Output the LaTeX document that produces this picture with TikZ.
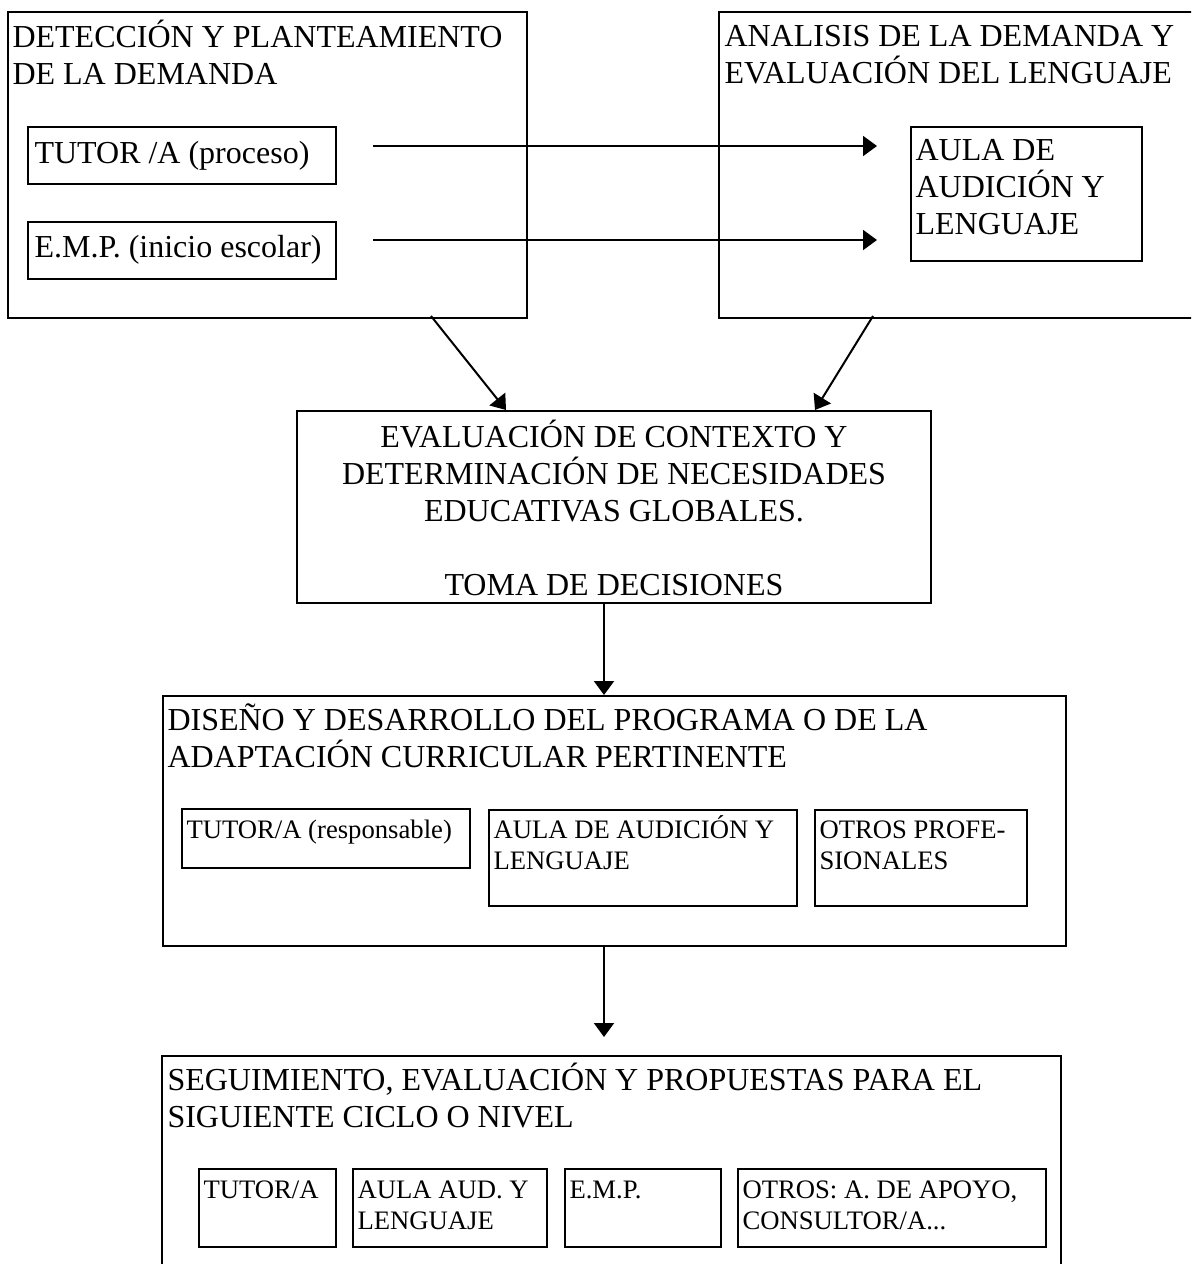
\documentclass[tikz,border=0pt]{standalone}
\usepackage{fontspec}
\setmainfont{Liberation Serif}
\usetikzlibrary{arrows.meta,fit}

\begin{document}
\begin{tikzpicture}[x=0.375pt,y=-0.375pt,
  box/.style={draw,line width=0.75pt,inner sep=0pt},
  thinbox/.style={draw,line width=0.4pt,inner sep=0pt},
  big/.style={inner sep=0pt,anchor=base west,align=left,font=\fontsize{12}{13.8}\selectfont},
  small/.style={inner sep=0pt,anchor=base west,align=left,font=\fontsize{10}{11.5}\selectfont},
  arr/.style={-{Triangle[length=5.25pt,width=7.5pt]},line width=0.75pt}]

  \path[use as bounding box,clip] (0,0) rectangle (1191,1264);

  % Detection of the demand (top left), text placed at its last baseline
  \node[box,fit={(8,12) (527,318)}] (det) {};
  \node[big] (dett) at (12,84) {DETECCIÓN Y PLANTEAMIENTO\\DE LA DEMANDA};
  \node[box,fit={(28,127) (336,184)}] (tut) {};
  \node[big] (tutt) at (34,163) {TUTOR /A (proceso)};
  \node[box,fit={(28,222) (336,279)}] (emp) {};
  \node[big] (empt) at (34,257) {E.M.P. (inicio escolar)};

  % Analysis of the demand (top right)
  \node[box,fit={(719,12) (1210,318)}] (ana) {};
  \node[big] (anat) at (724,83) {ANALISIS DE LA DEMANDA Y\\EVALUACIÓN DEL LENGUAJE};
  \node[thinbox,fit={(911,127) (1142,261)}] (aula) {};
  \node[big] (aulat) at (915,234) {AULA DE\\AUDICIÓN Y\\LENGUAJE};

  % Context
  \node[box,fit={(297,411) (931,603)}] (ctx) {};
  \node[big,anchor=base,align=center] (ctxt) at (614,595)
    {EVALUACIÓN DE CONTEXTO Y\\DETERMINACIÓN DE NECESIDADES\\EDUCATIVAS GLOBALES.\\[13.8pt]TOMA DE DECISIONES};

  % Design of the programme
  \node[box,fit={(163,696) (1066,946)}] (dis) {};
  \node[big] (dist) at (167,767) {DISEÑO Y DESARROLLO DEL PROGRAMA O DE LA\\ADAPTACIÓN CURRICULAR PERTINENTE};
  \node[thinbox,fit={(182,809) (470,868)}] (resp) {};
  \node[small] (respt) at (186,838) {TUTOR/A (responsable)};
  \node[box,fit={(489,810) (797,906)}] (aal) {};
  \node[small] (aalt) at (493,869) {AULA DE AUDICIÓN Y\\LENGUAJE};
  \node[box,fit={(815,810) (1027,906)}] (otp) {};
  \node[small] (otpt) at (819,869) {OTROS PROFE-\\SIONALES};

  % Follow-up
  \node[box,fit={(162,1056) (1061,1300)}] (seg) {};
  \node[big] (segt) at (167,1127) {SEGUIMIENTO, EVALUACIÓN Y PROPUESTAS PARA EL\\SIGUIENTE CICLO O NIVEL};
  \node[box,fit={(199,1169) (336,1247)}] (s1) {};
  \node[small] (s1t) at (203,1198) {TUTOR/A};
  \node[box,fit={(353,1169) (547,1247)}] (s2) {};
  \node[small] (s2t) at (357,1229) {AULA AUD. Y\\LENGUAJE};
  \node[box,fit={(565,1169) (721,1247)}] (s3) {};
  \node[small] (s3t) at (569,1198) {E.M.P.};
  \node[box,fit={(738,1169) (1046,1247)}] (s4) {};
  \node[small] (s4t) at (742,1229) {OTROS: A. DE APOYO,\\CONSULTOR/A...};

  % free ends of the connectors
  \coordinate (h1s) at (373,146);
  \coordinate (h1e) at (877,146);
  \coordinate (h2s) at (373,240);
  \coordinate (h2e) at (877,240);
  \coordinate (d1s) at (431,316);
  \coordinate (d1e) at (506,411);
  \coordinate (d2s) at (873,316);
  \coordinate (d2e) at (815,411);
  \coordinate (v) at (604,0);
  \coordinate (v2e) at (604,1037);

  \begin{scope}[arr]
    \draw (h1s) to (h1e);
    \draw (h2s) to (h2e);
    \draw (d1s) to (ctx.north -| d1e);
    \draw (d2s) to (ctx.north -| d2e);
    \draw (ctx.south -| v) to (dis.north -| v);
    \draw (dis.south -| v) to (v2e);
  \end{scope}

\end{tikzpicture}
\end{document}
